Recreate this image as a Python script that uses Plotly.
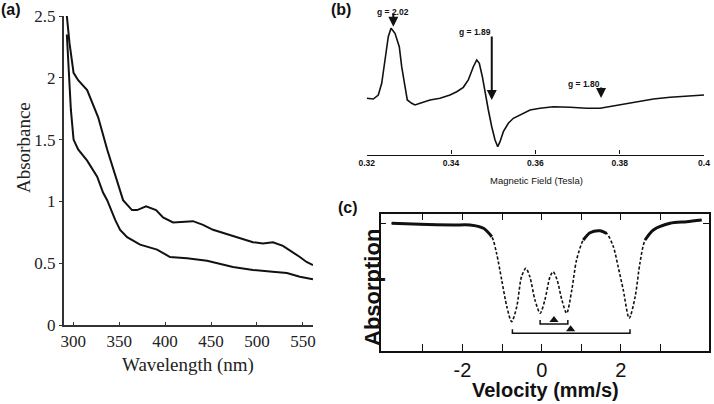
import plotly.graph_objects as go

W, H = 714, 404

# ---------------- (a) UV-vis absorbance ----------------
uv_wl_upper = [293.1, 296.0, 300.4, 305.4, 315.2, 327.2, 337.0, 347.8, 354.3, 364.0,
               369.6, 379.3, 390.2, 397.8, 408.7, 430.4, 441.3, 452.2, 474.0, 495.7,
               506.5, 517.4, 528.3, 539.0, 546.7, 554.0, 561.0]
uv_abs_upper = [2.50, 2.28, 2.04, 1.98, 1.90, 1.68, 1.42, 1.17, 1.01, 0.93,
                0.93, 0.96, 0.93, 0.87, 0.83, 0.84, 0.81, 0.77, 0.72, 0.67,
                0.66, 0.67, 0.64, 0.59, 0.55, 0.51, 0.485]
uv_wl_lower = [293.1, 294.9, 297.5, 300.4, 305.4, 315.2, 326.1, 332.6, 337.0, 345.7,
               351.1, 358.7, 372.8, 391.3, 405.4, 423.9, 445.7, 473.9, 495.7, 517.0,
               532.6, 546.7, 554.0, 561.0]
uv_abs_lower = [2.35, 2.09, 1.74, 1.50, 1.42, 1.33, 1.20, 1.07, 1.01, 0.85,
                0.77, 0.71, 0.65, 0.61, 0.55, 0.54, 0.52, 0.47, 0.445, 0.43,
                0.42, 0.39, 0.38, 0.37]
uv_xticks = [300, 350, 400, 450, 500, 550]
uv_yticks = [0, 0.5, 1, 1.5, 2, 2.5]
uv_yticktext = ["0", "0.5", "1", "1.5", "2", "2.5"]

# ---------------- (b) EPR spectrum ----------------
epr_field = [0.3200, 0.32157, 0.32275, 0.32356, 0.32434, 0.32512, 0.32577, 0.32671, 0.32773, 0.3283,
             0.32909, 0.32963, 0.33068, 0.33146, 0.33265, 0.33502, 0.33739, 0.33976, 0.34135, 0.34292,
             0.3441, 0.34529, 0.3461, 0.34671, 0.34743, 0.34807, 0.34885, 0.34966, 0.35044, 0.35108,
             0.35162, 0.35241, 0.35359, 0.35478, 0.35637, 0.35874, 0.36111, 0.36427, 0.36823, 0.3722,
             0.37535, 0.37772, 0.3801, 0.38406, 0.388, 0.39196, 0.39592, 0.4000]
epr_signal = [-0.3, -1, 3, 14.7, 38, 61.3, 69.7, 64.7, 51.3, 31.3,
              11.3, -2, -5.3, -7, -5.3, -2, -0.3, 3, 6.3, 10.7,
              18, 31.3, 38, 34.7, 21.3, 4.7, -12, -28.7, -42, -48.7,
              -43.7, -33.7, -25.3, -20.3, -17, -12, -10.3, -8.7, -9.3, -10.3,
              -10.3, -8.7, -7, -3.7, -1, 0.7, 2, 3]
epr_xticks = [0.32, 0.34, 0.36, 0.38, 0.40]
epr_xticktext = ["0.32", "0.34", "0.36", "0.38", "0.4"]
g_labels = ["g = 2.02", "g = 1.89", "g = 1.80"]
g_fields = [0.32631, 0.34966, 0.37559]
g_tip_signal = [71.3, -2.0, 0.0]

# ---------------- (c) Mossbauer spectrum ----------------
moss_vel = [-3.79, -3.07, -2.23, -1.81, -1.47, -1.26, -1.14, -1.01, -0.88, -0.76,
            -0.63, -0.51, -0.40, -0.30, -0.17, -0.04, 0.08, 0.21, 0.29, 0.39,
            0.51, 0.63, 0.76, 0.88, 1.05, 1.22, 1.47, 1.64, 1.81, 1.93,
            2.06, 2.21, 2.36, 2.48, 2.61, 2.82, 3.24, 3.66, 4.04]
moss_abs = [128.7, 127.7, 127.0, 127.0, 123.7, 115.3, 98.7, 72.0, 45.3, 30.3,
            45.3, 75.3, 83.7, 75.3, 52.0, 38.7, 52.0, 75.3, 80.3, 72.0,
            52.0, 38.7, 62.0, 92.0, 112.0, 119.3, 121.3, 118.7, 105.3, 85.3,
            62.0, 33.7, 55.3, 88.7, 112.0, 122.0, 128.7, 130.3, 132.0]
moss_xticks = [-3, -2, -1, 0, 1, 2, 3]
moss_xticktext = ["", "-2", "", "0", "", "2", ""]
# doublets: line positions and centres (isomer shift)
doublet_lines = [(-0.04, 0.66), (-0.74, 2.23)]
doublet_centres = [0.31, 0.73]
doublet_level = [28.0, 18.7]

# ------------------------------------------------------
def px(x):
    return x / W


def py(y):
    return 1 - y / H


fig = go.Figure()
BLACK = "#111111"

# (a)
fig.add_trace(go.Scatter(x=uv_wl_upper, y=uv_abs_upper, mode="lines",
                         line=dict(color=BLACK, width=2), xaxis="x", yaxis="y"))
fig.add_trace(go.Scatter(x=uv_wl_lower, y=uv_abs_lower, mode="lines",
                         line=dict(color=BLACK, width=2), xaxis="x", yaxis="y"))

# (b)
fig.add_trace(go.Scatter(x=epr_field, y=epr_signal, mode="lines",
                         line=dict(color=BLACK, width=1.6), xaxis="x2", yaxis="y2"))

# (c) dashed full curve + solid flat parts
fig.add_trace(go.Scatter(x=moss_vel, y=moss_abs, mode="lines",
                         line=dict(color=BLACK, width=1.6, dash="3px,2px", shape="spline", smoothing=0.8),
                         xaxis="x3", yaxis="y3"))
solid_ranges = [(0, 6), (24, 28), (34, 39)]
for a, b in solid_ranges:
    fig.add_trace(go.Scatter(x=moss_vel[a:b], y=moss_abs[a:b], mode="lines",
                             line=dict(color=BLACK, width=3, shape="spline", smoothing=0.8),
                             xaxis="x3", yaxis="y3"))
# doublet brackets
for (l1, l2), c, lev in zip(doublet_lines, doublet_centres, doublet_level):
    fig.add_trace(go.Scatter(x=[l1, l1, l2, l2], y=[lev + 4, lev, lev, lev + 4], mode="lines",
                             line=dict(color=BLACK, width=1.5), xaxis="x3", yaxis="y3"))
    fig.add_trace(go.Scatter(x=[c], y=[lev + 4], mode="markers",
                             marker=dict(symbol="triangle-up", size=8, color=BLACK),
                             xaxis="x3", yaxis="y3"))

serif = "Liberation Serif"
sans = "Liberation Sans"

fig.update_layout(
    width=W, height=H, margin=dict(l=0, r=0, t=0, b=0, autoexpand=False),
    paper_bgcolor="white", plot_bgcolor="white", showlegend=False,
    xaxis=dict(domain=[px(64), px(313)], range=[290, 561], showgrid=False, zeroline=False,
               showline=True, linecolor="#333", linewidth=2, ticks="inside", ticklen=3,
               tickcolor="#333", tickvals=uv_xticks,
               tickfont=dict(family=serif, size=17, color="#222"), anchor="y"),
    yaxis=dict(domain=[py(325), py(16)], range=[0, 2.5], showgrid=False, zeroline=False,
               showline=True, linecolor="#333", linewidth=2, ticks="outside", ticklen=3,
               tickcolor="#333", tickvals=uv_yticks, ticktext=uv_yticktext,
               tickfont=dict(family=serif, size=17, color="#222"), anchor="x"),
    xaxis2=dict(domain=[px(366.7), px(704)], range=[0.32, 0.40], showgrid=False, zeroline=False,
                showline=True, linecolor=BLACK, linewidth=1.2, ticks="inside", ticklen=4,
                tickcolor=BLACK, tickvals=epr_xticks, ticktext=epr_xticktext,
                tickfont=dict(family=sans, size=8.5, color=BLACK, weight="bold"), anchor="y2"),
    yaxis2=dict(domain=[py(154.5), 1], range=[-56.5, 98], visible=False, anchor="x2"),
    xaxis3=dict(domain=[px(380.7), px(709)], range=[-4.066, 4.225], showgrid=False, zeroline=False,
                showline=True, mirror="allticks", linecolor=BLACK, linewidth=1.5,
                ticks="inside", ticklen=7, tickcolor=BLACK, tickwidth=1.3,
                tickvals=moss_xticks, ticktext=moss_xticktext,
                tickfont=dict(family=sans, size=20, color=BLACK), anchor="y3"),
    yaxis3=dict(domain=[py(351), py(213.5)], range=[1, 138.5], showgrid=False, zeroline=False,
                showline=True, mirror="allticks", linecolor=BLACK, linewidth=1.5,
                ticks="inside", ticklen=6, tickcolor=BLACK, tickvals=[129],
                showticklabels=False, anchor="x3"),
)

ann = []
# panel labels
ann.append(dict(text="(a)", x=px(11), y=py(9), font=dict(family=sans, size=16, color=BLACK, weight="bold")))
ann.append(dict(text="(b)", x=px(341), y=py(9), font=dict(family=sans, size=16, color=BLACK, weight="bold")))
ann.append(dict(text="(c)", x=px(348), y=py(207), font=dict(family=sans, size=16, color=BLACK, weight="bold")))
# axis titles
ann.append(dict(text="Wavelength (nm)", x=px(188), y=py(365), font=dict(family=serif, size=19, color="#222")))
ann.append(dict(text="Absorbance", x=px(23), y=py(147), textangle=-90, font=dict(family=serif, size=19, color="#222")))
ann.append(dict(text="Magnetic Field (Tesla)", x=px(536), y=py(181), font=dict(family=sans, size=9.5, color=BLACK)))
ann.append(dict(text="Velocity (mm/s)", x=px(545), y=py(390), font=dict(family=sans, size=20, color=BLACK, weight="bold")))
ann.append(dict(text="Absorption", x=px(372), y=py(288), textangle=-90, font=dict(family=sans, size=22, color=BLACK, weight="bold")))
for a in ann:
    a.update(xref="paper", yref="paper", showarrow=False, xanchor="center", yanchor="middle")
fig.update_layout(annotations=ann)

# g-value arrows and labels (b)
label_pos = [(392.7, 5), (493, 25), (601.7, 77)]
tails = [-15, -65, -12]
for lab, gx, gy, (lx, ly), t in zip(g_labels, g_fields, g_tip_signal, label_pos, tails):
    fig.add_annotation(x=gx, y=gy, xref="x2", yref="y2", text="", showarrow=True,
                       ax=0, ay=t, arrowhead=2, arrowsize=1, arrowwidth=2, arrowcolor=BLACK)
    fig.add_annotation(x=px(lx), y=py(ly), xref="paper", yref="paper", text=lab, showarrow=False,
                       font=dict(family=sans, size=8.5, color=BLACK, weight="bold"))

fig.write_html("out.html", config={"displayModeBar": False},
               post_script="document.body.style.margin='0';document.body.style.overflow='hidden';")
